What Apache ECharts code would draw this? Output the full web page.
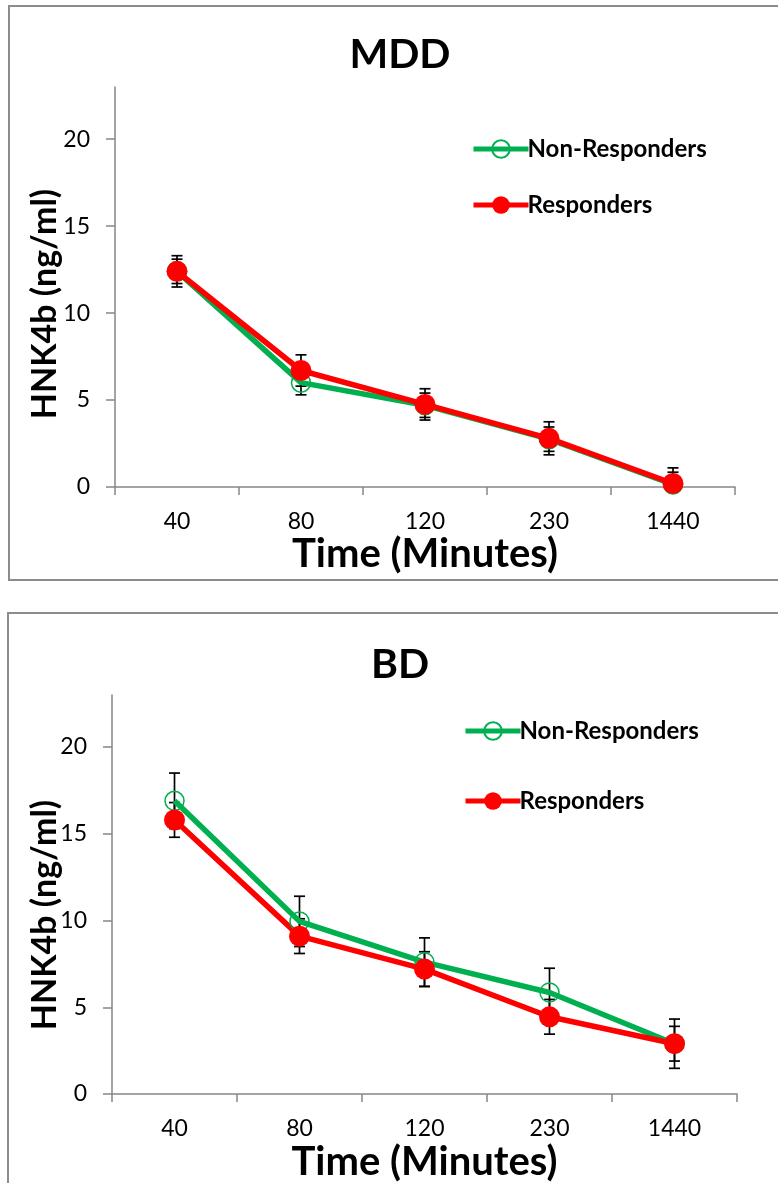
<!DOCTYPE html>
<html>
<head>
<meta charset="utf-8">
<script src="https://cdn.jsdelivr.net/npm/echarts@6/dist/echarts.min.js"></script>
<style>
html, body { margin: 0; padding: 0; background: #fff; }
#main { width: 778px; height: 1183px; }
</style>
</head>
<body>
<div id="main"></div>
<script>
// time points (minutes)
var categories = ['40', '80', '120', '230', '1440'];
var yTicks = [0, 5, 10, 15, 20];

// MDD
var mddNon = [12.4, 6.0, 4.7, 2.75, 0.15];
var mddNonErr = [0.7, 0.7, 0.7, 0.7, 0.7];
var mddResp = [12.4, 6.7, 4.75, 2.8, 0.2];
var mddRespErr = [0.9, 0.9, 0.9, 0.95, 0.9];

// BD
var bdNon = [16.9, 9.95, 7.6, 5.85, 2.9];
var bdNonErr = [1.6, 1.45, 1.4, 1.4, 1.42];
var bdResp = [15.8, 9.1, 7.2, 4.45, 2.9];
var bdRespErr = [1.0, 1.0, 1.0, 1.0, 1.0];

var green = '#00b050';
var red = '#ff0000';
var axisGray = '#868686';
var font = 'Lato';

function errData(vals, errs) {
    return vals.map(function (v, i) { return [i, v - errs[i], v + errs[i]]; });
}

function renderErr(params, api) {
    var x = api.coord([api.value(0), 0])[0];
    var lo = api.coord([api.value(0), api.value(1)])[1];
    var hi = api.coord([api.value(0), api.value(2)])[1];
    var w = 5.5;
    var st = { stroke: '#000', lineWidth: 1.7, fill: null };
    return {
        type: 'group',
        children: [
            { type: 'line', shape: { x1: x, y1: hi, x2: x, y2: lo }, style: st },
            { type: 'line', shape: { x1: x - w, y1: hi, x2: x + w, y2: hi }, style: st },
            { type: 'line', shape: { x1: x - w, y1: lo, x2: x + w, y2: lo }, style: st }
        ]
    };
}

function xAxisFor(idx, gap) {
    return {
        gridIndex: idx,
        type: 'category',
        data: categories,
        boundaryGap: true,
        name: 'Time (Minutes)',
        nameLocation: 'middle',
        nameGap: gap,
        nameTextStyle: { fontFamily: font, fontWeight: 'bold', fontSize: 40, color: '#000' },
        axisLine: { lineStyle: { color: axisGray, width: 1.5 } },
        axisTick: { show: true, interval: 0, length: 8, lineStyle: { color: axisGray, width: 1.5 } },
        axisLabel: { interval: 0, margin: 23, fontFamily: font, fontSize: 23, color: '#000' },
        splitLine: { show: false }
    };
}

function yAxisFor(idx) {
    return {
        gridIndex: idx,
        type: 'value',
        min: 0,
        max: 23,
        interval: 5,
        axisLine: { show: true, lineStyle: { color: axisGray, width: 1.5 } },
        axisTick: { show: true, length: 9, customValues: yTicks, lineStyle: { color: axisGray, width: 1.5 } },
        axisLabel: { margin: 25, customValues: yTicks, fontFamily: font, fontSize: 23, color: '#000' },
        splitLine: { show: false }
    };
}

function lineSeries(name, idx, data, color, filled) {
    return {
        name: name,
        type: 'line',
        xAxisIndex: idx,
        yAxisIndex: idx,
        data: data,
        symbol: 'circle',
        symbolSize: filled ? 21 : 19,
        z: 3,
        lineStyle: { color: color, width: 5.5 },
        itemStyle: filled
            ? { color: color }
            : { color: 'rgba(255,255,255,0)', borderColor: color, borderWidth: 1.5 }
    };
}

function errSeries(idx, vals, errs) {
    return {
        type: 'custom',
        xAxisIndex: idx,
        yAxisIndex: idx,
        renderItem: renderErr,
        encode: { x: 0, y: [1, 2] },
        data: errData(vals, errs),
        clip: true,
        z: 1,
        silent: true
    };
}

function legendFor(top, gap, left) {
    return {
        orient: 'vertical',
        left: left,
        top: top,
        itemGap: gap,
        itemWidth: 55,
        itemHeight: 22,
        lineStyle: { width: 5 },
        data: ['Non-Responders', 'Responders'],
        textStyle: { fontFamily: font, fontWeight: 'bold', fontSize: 24, color: '#000', padding: [0, 0, 0, -6] }
    };
}

var myChart = echarts.init(document.getElementById('main'));
var option = {
    backgroundColor: '#fff',
    animation: false,
    graphic: [
        { type: 'rect', shape: { x: 9, y: 6, width: 820, height: 574 }, style: { fill: null, stroke: '#8c8c8c', lineWidth: 2 } },
        { type: 'rect', shape: { x: 8, y: 613, width: 820, height: 620 }, style: { fill: null, stroke: '#8c8c8c', lineWidth: 2 } },
        { type: 'text', x: 400, y: 55, style: { text: 'MDD', font: 'bold 41px Lato', fill: '#000', align: 'center', verticalAlign: 'middle' } },
        { type: 'text', x: 400, y: 665, style: { text: 'BD', font: 'bold 41px Lato', fill: '#000', align: 'center', verticalAlign: 'middle' } },
        { type: 'text', x: 45, y: 304, rotation: Math.PI / 2, style: { text: 'HNK4b (ng/ml)', font: 'bold 34px Lato', fill: '#000', align: 'center', verticalAlign: 'middle' } },
        { type: 'text', x: 45, y: 915, rotation: Math.PI / 2, style: { text: 'HNK4b (ng/ml)', font: 'bold 34px Lato', fill: '#000', align: 'center', verticalAlign: 'middle' } }
    ],
    legend: [legendFor(132, 32, 466), legendFor(714, 46, 458)],
    grid: [
        { left: 115, top: 87, width: 620, height: 400 },
        { left: 112, top: 695, width: 625, height: 399 }
    ],
    xAxis: [xAxisFor(0, 45), xAxisFor(1, 48)],
    yAxis: [yAxisFor(0), yAxisFor(1)],
    series: [
        errSeries(0, mddNon, mddNonErr),
        errSeries(0, mddResp, mddRespErr),
        lineSeries('Non-Responders', 0, mddNon, green, false),
        lineSeries('Responders', 0, mddResp, red, true),
        errSeries(1, bdNon, bdNonErr),
        errSeries(1, bdResp, bdRespErr),
        lineSeries('Non-Responders', 1, bdNon, green, false),
        lineSeries('Responders', 1, bdResp, red, true)
    ]
};
myChart.setOption(option);
</script>
</body>
</html>
